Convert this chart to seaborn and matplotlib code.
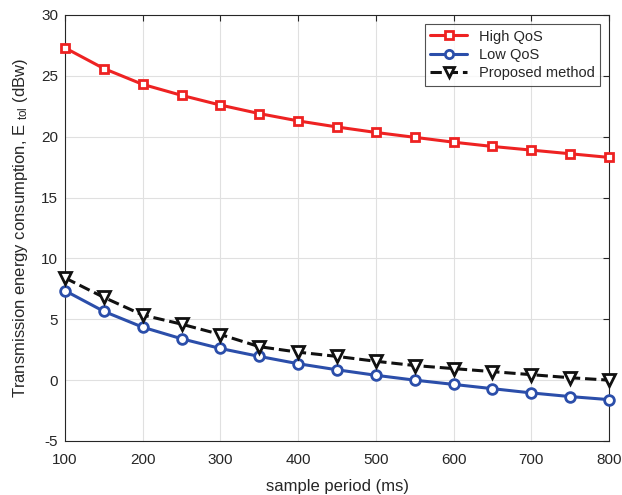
import matplotlib
matplotlib.use("Agg")
import matplotlib.pyplot as plt
import pandas as pd
import seaborn as sns

# ---------------------------------------------------------
# Data
# ---------------------------------------------------------

sample_period = [100, 150, 200, 250, 300, 350, 400, 450, 500, 550, 600, 650, 700, 750, 800]
high_qos = [27.3, 25.6, 24.3, 23.4, 22.6, 21.9, 21.3, 20.8, 20.35, 19.95, 19.55, 19.2, 18.9, 18.6, 18.3]
low_qos = [7.35, 5.65, 4.35, 3.4, 2.6, 1.95, 1.35, 0.85, 0.4, 0.0, -0.35, -0.7, -1.05, -1.35, -1.6]
proposed = [8.4, 6.8, 5.35, 4.6, 3.75, 2.75, 2.3, 1.95, 1.55, 1.2, 0.95, 0.7, 0.45, 0.2, 0.0]

x_ticks = [100, 200, 300, 400, 500, 600, 700, 800]
y_ticks = [-5, 0, 5, 10, 15, 20, 25, 30]

df = pd.DataFrame({
    "period": sample_period * 3,
    "energy": high_qos + low_qos + proposed,
    "method": ["High QoS"] * 15 + ["Low QoS"] * 15 + ["Proposed method"] * 15,
})

# ---------------------------------------------------------
# Style
# ---------------------------------------------------------

sns.set_style("white")
plt.rcParams["font.family"] = ["Liberation Sans", "DejaVu Sans"]
plt.rcParams["mathtext.fontset"] = "custom"
plt.rcParams["mathtext.rm"] = "Liberation Sans"
plt.rcParams["mathtext.it"] = "Liberation Sans"
plt.rcParams["axes.unicode_minus"] = False

fig = plt.figure(figsize=(6.22, 4.95), dpi=100)
ax = fig.add_axes([65 / 622, 54 / 495, 544 / 622, 426 / 495])

palette = {"High QoS": "#EE2222", "Low QoS": "#2B4EAA", "Proposed method": "#111111"}
styles = {
    "High QoS": dict(marker="s", ls="-", ms=6),
    "Low QoS": dict(marker="o", ls="-", ms=7),
    "Proposed method": dict(marker="v", ls="--", ms=8),
}

for name, grp in df.groupby("method", sort=False):
    st = styles[name]
    sns.lineplot(data=grp, x="period", y="energy", ax=ax, color=palette[name],
                 linestyle=st["ls"], marker=st["marker"], markersize=st["ms"],
                 markerfacecolor="white", markeredgecolor=palette[name],
                 markeredgewidth=2, linewidth=2.2, label=name, clip_on=False,
                 zorder=3)

ax.set_xlim(100, 800)
ax.set_ylim(-5, 30)
ax.set_xticks(x_ticks)
ax.set_yticks(y_ticks)
ax.grid(True, color="#E0E0E0", linewidth=0.8)
ax.tick_params(direction="in", length=4, top=True, right=True, labelsize=11,
               colors="#262626", width=0.8)
ax.tick_params(axis="x", pad=9)
ax.tick_params(axis="y", pad=5)
for sp in ax.spines.values():
    sp.set_color("#262626")
    sp.set_linewidth(0.8)

ax.set_xlabel("sample period (ms)", fontsize=12, color="#262626", labelpad=8)
ax.set_ylabel(r"Transmission energy consumption, E $_{\rm tol}$ (dBw)",
              fontsize=12, color="#262626", labelpad=8)

leg = ax.legend(loc="upper right", fontsize=10.5, frameon=True, fancybox=False,
                edgecolor="#262626", handlelength=2.5, borderaxespad=0.6,
                labelspacing=0.3, markerscale=0.85)
leg.get_frame().set_linewidth(0.8)

fig.savefig("out.png", dpi=100)
